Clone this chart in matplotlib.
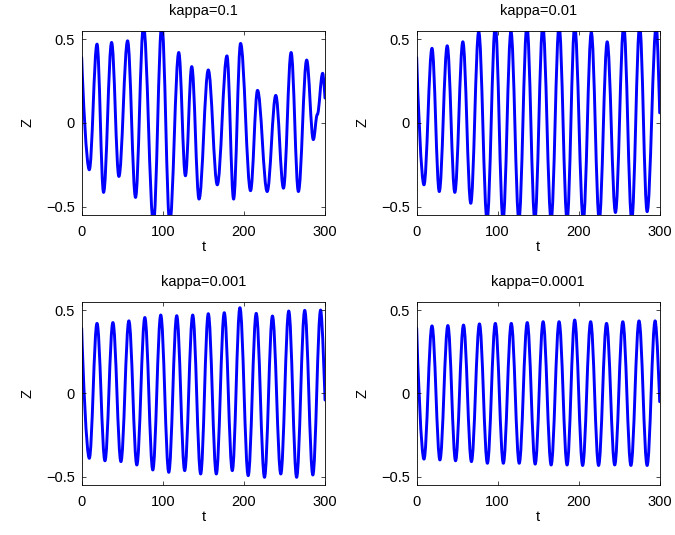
import matplotlib
matplotlib.use("Agg")
import matplotlib.pyplot as plt
from matplotlib.path import Path
from matplotlib.patches import PathPatch

plt.rcParams['font.family'] = ['Liberation Sans', 'DejaVu Sans']
plt.rcParams['font.size'] = 10
plt.rcParams['axes.unicode_minus'] = True

# extremos (t, Z) para cada kappa
t_k1 = [0, 9.4, 18.9, 27, 36.9, 45.9, 56.6, 66.4, 76.2, 88.5, 98.8, 108.6, 119.7,
        127.9, 135.7, 144.7, 156.1, 167.2, 179.1, 187.3, 195.9, 208.2, 216.8, 228.7,
        239.3, 248.8, 258.2, 267.2, 277.4, 285.6, 290.5, 297.1, 300]
z_k1 = [0.39, -0.28, 0.47, -0.415, 0.48, -0.32, 0.49, -0.445, 0.58, -0.60, 0.59, -0.60,
        0.42, -0.316, 0.336, -0.455, 0.316, -0.37, 0.40, -0.455, 0.474, -0.405, 0.194,
        -0.41, 0.164, -0.39, 0.42, -0.41, 0.375, -0.10, 0.05, 0.296, 0.148]

t_k2 = [0, 9, 18.9, 27.9, 37.7, 47.1, 57, 66.8, 76.6, 86.9, 97.1, 106.6, 116.4, 126.2,
        136.1, 145.9, 155.7, 166, 175.8, 185.7, 195.1, 205.7, 215.6, 225.4, 235.2,
        245.4, 255.6, 265.5, 275.3, 284.5, 295.8, 300]
z_k2 = [0.39, -0.37, 0.445, -0.41, 0.46, -0.415, 0.484, -0.48, 0.545, -0.58, 0.58,
        -0.58, 0.545, -0.58, 0.58, -0.58, 0.58, -0.58, 0.58, -0.58, 0.58, -0.58, 0.54,
        -0.58, 0.484, -0.535, 0.58, -0.58, 0.58, -0.53, 0.58, 0.06]

t_k3 = [0, 9.4, 18.9, 28.7, 38.5, 48.4, 58.2, 68, 77.9, 87.7, 97.5, 107.4, 117.2, 127,
        136.9, 146.7, 156.1, 166, 175.8, 185.7, 195.1, 205.3, 215.2, 225.4, 235.2,
        245.5, 255.3, 265, 275, 285, 294.6, 300]
z_k3 = [0.39, -0.39, 0.42, -0.405, 0.425, -0.41, 0.435, -0.43, 0.455, -0.46, 0.47,
        -0.474, 0.466, -0.464, 0.47, -0.484, 0.478, -0.484, 0.484, -0.464, 0.514,
        -0.494, 0.48, -0.504, 0.464, -0.484, 0.494, -0.504, 0.498, -0.49, 0.5, -0.04]

t_k4 = [0, 9, 18.9, 28.7, 38.5, 48, 57.8, 67.6, 77.5, 87.3, 97.1, 107, 116.8, 126.6,
        136.5, 146.3, 156.1, 166, 175.8, 185.7, 195.1, 204.9, 214.8, 224.6, 234.4,
        244.5, 254.5, 264.5, 274.5, 284.5, 294.4, 300]
z_k4 = [0.39, -0.395, 0.405, -0.40, 0.407, -0.405, 0.41, -0.41, 0.417, -0.42, 0.42,
        -0.42, 0.42, -0.42, 0.425, -0.425, 0.43, -0.43, 0.43, -0.43, 0.44, -0.433,
        0.43, -0.433, 0.42, -0.43, 0.43, -0.433, 0.435, -0.433, 0.435, -0.05]

titulos = ['kappa=0.1', 'kappa=0.01', 'kappa=0.001', 'kappa=0.0001']
series = [(t_k1, z_k1), (t_k2, z_k2), (t_k3, z_k3), (t_k4, z_k4)]


def curva_suave(ax, t, z):
    """Liga os extremos com curvas de Bezier de tangente horizontal."""
    verts = [(t[0], z[0])]
    codes = [Path.MOVETO]
    n = len(t)
    for i in range(n - 1):
        dt = t[i + 1] - t[i]
        c1 = (t[i] + 0.15 * dt, z[i] + 0.3 * (z[i + 1] - z[i])) if i == 0 \
            else (t[i] + 0.3642 * dt, z[i])
        c2 = (t[i + 1], z[i + 1]) if i == n - 2 else (t[i + 1] - 0.3642 * dt, z[i + 1])
        verts += [c1, c2, (t[i + 1], z[i + 1])]
        codes += [Path.CURVE4] * 3
    patch = PathPatch(Path(verts, codes), facecolor='none', edgecolor=(0, 0, 1),
                      linewidth=2.1, capstyle='round', joinstyle='round')
    ax.add_patch(patch)


fig = plt.figure(figsize=(6.75, 5.35), dpi=100)
posicoes = [
    [0.121, 0.5981, 0.3605, 0.3445],
    [0.6173, 0.5981, 0.3600, 0.3445],
    [0.121, 0.0935, 0.3605, 0.3426],
    [0.6173, 0.0935, 0.3600, 0.3426],
]

for pos, titulo, (t, z) in zip(posicoes, titulos, series):
    ax = fig.add_axes(pos)
    curva_suave(ax, t, z)
    ax.set_xlim(0, 300)
    ax.set_ylim(-0.55, 0.55)
    ax.set_xticks([0, 100, 200, 300])
    ax.set_yticks([-0.5, 0, 0.5])
    ax.set_yticklabels(['\u22120.5', '0', '0.5'])
    ax.tick_params(direction='in', length=3, width=0.5, top=True, right=True,
                   labelsize=10.5, pad=5)
    ax.tick_params(axis='x', pad=7)
    for s in ax.spines.values():
        s.set_linewidth(0.6)
    ax.set_title(titulo, fontsize=10.5, pad=11)
    ax.set_xlabel('t', fontsize=10.5, labelpad=1)
    ax.set_ylabel('Z', fontsize=10.5, labelpad=8)

fig.savefig('out.png', dpi=100)
